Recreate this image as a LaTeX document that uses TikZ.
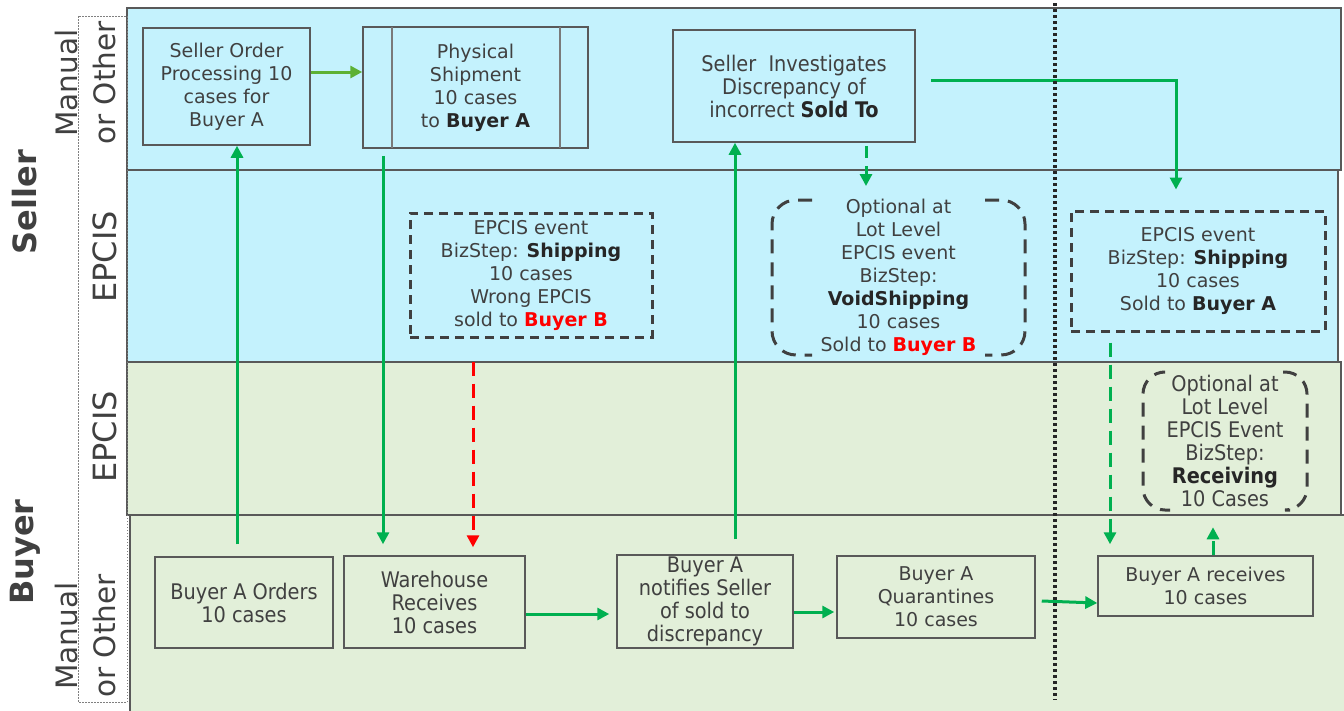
\documentclass[tikz,border=0pt]{standalone}
\usepackage{fontspec}
\setmainfont{DejaVu Sans}
\newfontfamily\tah{DejaVu Sans Condensed}
\usetikzlibrary{arrows.meta}
\definecolor{laneblue}{HTML}{C4F2FD}
\definecolor{lanegreen}{HTML}{E2EFD9}
\definecolor{txt}{HTML}{404040}
\definecolor{dk}{HTML}{262626}
\definecolor{bord}{HTML}{595959}
\definecolor{gr}{HTML}{00B050}
\definecolor{grtwo}{HTML}{5DB134}
\definecolor{redb}{HTML}{FF0000}
\newcommand\vfnt{\fontsize{19}{23}\selectfont}
\newcommand\tfnt{\tah\fontsize{21.5}{23}\selectfont}
\newcommand\bk[1]{\textbf{\color{dk}#1}}
\newcommand\rd[1]{\textbf{\color{redb}#1}}
\begin{document}
\begin{tikzpicture}[x=1pt,y=-1pt,
  lane/.style={draw=bord, line width=1.2pt},
  box/.style={draw=bord, line width=1.5pt, align=center, inner sep=0pt, text=txt, font=\vfnt},
  tbox/.style={box, font=\tfnt},
  dbox/.style={draw=txt, line width=3pt, dash pattern=on 9pt off 6pt, align=center, inner sep=0pt, text=txt, font=\vfnt},
  plain/.style={align=center, inner sep=0pt, text=txt, font=\vfnt},
  brk/.style={draw=txt, line width=3pt, dash pattern=on 14pt off 9pt, rounded corners=24pt},
  lbl/.style={rotate=90, align=center, text=txt, inner sep=0pt, font=\fontsize{29.5}{38}\selectfont},
  elbl/.style={rotate=90, text=txt, inner sep=0pt, font=\fontsize{32}{38}\selectfont},
  big/.style={rotate=90, text=txt, inner sep=0pt, font=\bfseries\fontsize{32}{36}\selectfont},
  arr/.style={draw=gr, line width=3pt, -{Triangle[length=12pt,width=12pt]}},
  darr/.style={arr, dash pattern=on 14pt off 8pt},
  rarr/.style={draw=redb, line width=3pt, dash pattern=on 14pt off 8pt, -{Triangle[length=12pt,width=12pt]}}
]
\useasboundingbox (0,0) rectangle (1344,710);
\fill[white] (0,0) rectangle (1344,710);
% lanes
\draw[lane, fill=laneblue] (127,8) rectangle (1341,170);
\draw[lane, fill=laneblue] (127,170) rectangle (1338,362);
\draw[lane, fill=lanegreen] (127,362) rectangle (1341,515);
\draw[lane, fill=lanegreen] (130,712) -- (130,515) -- (1346,515) -- (1346,712) -- cycle;
% left label frame
\draw[gray, line width=0.8pt, dash pattern=on 1.5pt off 1.5pt] (78,16) rectangle (127,702);
\node[lbl] (l1) at (86,83) {Manual\\or Other};
\node[elbl] (l2) at (105,257) {EPCIS};
\node[elbl] (l3) at (105,437) {EPCIS};
\node[lbl] (l4) at (86,636) {Manual\\or Other};
\node[big] (sel) at (25,202) {Seller};
\node[big] (buy) at (25,552) {Buyer};
% seller manual boxes
\node[box, minimum width=167pt, minimum height=117pt] (o1) at (226.5,86.5) {Seller Order\\Processing 10\\cases for\\Buyer A};
\node[box, minimum width=225pt, minimum height=121pt] (o2) at (475.5,87.5) {Physical\\Shipment\\10 cases\\to \bk{Buyer A}};
\draw[bord!80, line width=1.5pt] (392,27) -- (392,148) (560,27) -- (560,148);
\node[tbox, minimum width=242pt, minimum height=112pt] (o3) at (794,86) {Seller\ \ Investigates\\Discrepancy of\\incorrect \bk{Sold To}};
% seller EPCIS
\node[dbox, minimum width=242pt, minimum height=124pt] (o4) at (531,275) {EPCIS event\\BizStep: \bk{Shipping}\\10 cases\\Wrong EPCIS\\sold to \rd{Buyer B}};
\node[plain, minimum width=253pt, minimum height=155pt] (o5) at (898.5,277.5) {Optional at\\Lot Level\\EPCIS event\\BizStep:\\\bk{VoidShipping}\\10 cases\\Sold to \rd{Buyer B}};
\draw[brk] (812,200) -- (772,200) -- (772,355) -- (812,355);
\draw[brk] (985,200) -- (1025,200) -- (1025,355) -- (985,355);
\node[dbox, minimum width=254pt, minimum height=120pt] (o6) at (1198,271) {EPCIS event\\BizStep: \bk{Shipping}\\10 cases\\Sold to \bk{Buyer A}};
% buyer EPCIS
\node[plain, font=\tfnt, minimum width=164pt, minimum height=138pt] (o7) at (1225,441) {Optional at\\Lot Level\\EPCIS Event\\BizStep:\\\bk{Receiving}\\10 Cases};
\draw[brk, rounded corners=22pt] (1162,372) -- (1143,372) -- (1143,510) -- (1170,510);
\draw[brk, rounded corners=22pt] (1283,372) -- (1307,372) -- (1307,510) -- (1290,510);
% buyer manual boxes
\node[tbox, minimum width=178pt, minimum height=91pt] (o8) at (244,602.5) {Buyer A Orders\\10 cases};
\node[tbox, minimum width=181pt, minimum height=92pt] (o9) at (434.5,602) {Warehouse\\Receives\\10 cases};
\node[tbox, minimum width=176pt, minimum height=93pt] (o10) at (705,601.5) {Buyer A\\notifies Seller\\of sold to\\discrepancy};
\node[box, minimum width=198pt, minimum height=82pt] (o11) at (936,597) {Buyer A\\Quarantines\\10 cases};
\node[box, minimum width=215pt, minimum height=60pt] (o12) at (1205.5,586) {Buyer A receives\\10 cases};
% helper coordinates
\coordinate (o9t) at ([yshift=11pt]o9.north);
\coordinate (o9r) at ([yshift=8pt]o9.north);
\coordinate (o5t) at ([yshift=13pt]o5.north);
\coordinate (o12t) at ([yshift=11pt]o12.north);
% connectors
\coordinate (a1) at ([shift={(-7pt,12pt)}]o8.north);
\draw[arr] (a1) -- (a1 |- o1.south);
\coordinate (a2) at ([yshift=14.5pt]o1.east);
\draw[arr, draw=grtwo] (a2) -- (a2 -| o2.west);
\coordinate (a3) at ([shift={(-92.5pt,-7pt)}]o2.south);
\draw[arr] (a3) -- (a3 |- o9t);
\coordinate (a4) at ([shift={(-58pt,-23pt)}]o4.south);
\draw[rarr] (a4) -- (a4 |- o9r);
\coordinate (a5) at ([shift={(30pt,15pt)}]o10.north);
\draw[arr] (a5) -- (a5 |- o3.south);
\coordinate (a6) at ([shift={(72pt,-3pt)}]o3.south);
\draw[darr, dash pattern=on 12pt off 8pt] (a6) -- (a6 |- o5t);
\coordinate (a7) at ([shift={(15pt,6pt)}]o3.east);
\draw[arr] (a7) -| ([shift={(-22pt,20pt)}]o6.north);
\coordinate (a8) at ([shift={(-88pt,-10pt)}]o6.south);
\draw[darr] (a8) -- (a8 |- o12t);
\coordinate (a9) at ([xshift=7.5pt]o12.north);
\draw[darr] (a9) -- ([yshift=28pt]a9);
\coordinate (a10) at ([yshift=-12pt]o9.east);
\coordinate (a10e) at ([xshift=-7pt]o10.west);
\draw[arr] (a10) -- (a10 -| a10e);
\coordinate (a11) at ([yshift=-10.5pt]o10.east);
\coordinate (a11e) at ([xshift=-2pt]o11.west);
\draw[arr] (a11) -- (a11 -| a11e);
\draw[arr] ([shift={(6pt,-4pt)}]o11.east) -- ([yshift=-17pt]o12.west);
% divider
\draw[black!85, line width=3.5pt, dash pattern=on 3pt off 3pt] (1055,3) -- (1055,700);
\end{tikzpicture}
\end{document}
